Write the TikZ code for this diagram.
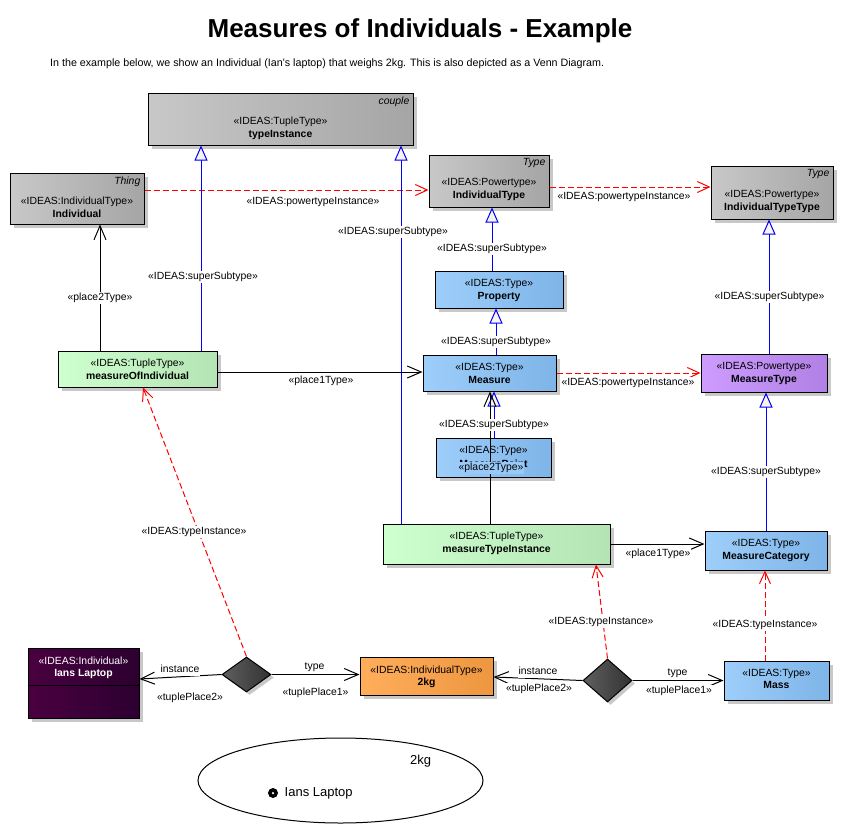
\documentclass[tikz,border=0pt]{standalone}
\usepackage{fontspec}
\setmainfont{Liberation Sans}
\usetikzlibrary{arrows.meta,shapes.geometric,shadows}
\definecolor{gL}{RGB}{200,200,200}
\definecolor{gR}{RGB}{165,165,165}
\definecolor{bL}{RGB}{158,206,250}
\definecolor{bR}{RGB}{126,180,232}
\definecolor{grL}{RGB}{206,255,206}
\definecolor{grR}{RGB}{180,228,180}
\definecolor{pL}{RGB}{206,156,255}
\definecolor{pR}{RGB}{176,128,228}
\definecolor{oL}{RGB}{255,174,92}
\definecolor{oR}{RGB}{238,150,64}
\definecolor{dL}{RGB}{74,0,64}
\definecolor{dR}{RGB}{44,0,48}
\definecolor{dmL}{RGB}{95,95,95}
\definecolor{dmR}{RGB}{50,50,50}
\definecolor{triF}{RGB}{248,244,236}
\definecolor{shad}{RGB}{200,200,200}
\tikzset{
 box/.style={draw=black, line width=1pt, rectangle, inner sep=0pt,
   drop shadow={shadow xshift=3.5pt, shadow yshift=-3.5pt, fill=shad, opacity=1}},
 graybox/.style={box, left color=gL, right color=gR},
 bluebox/.style={box, left color=bL, right color=bR},
 greenbox/.style={box, left color=grL, right color=grR},
 purplebox/.style={box, left color=pL, right color=pR},
 orangebox/.style={box, left color=oL, right color=oR},
 darkbox/.style={box, left color=dL, right color=dR},
 dia/.style={diamond, draw=black, line width=1pt, inner sep=0pt, left color=dmL, right color=dmR,
   drop shadow={shadow xshift=3pt, shadow yshift=-3pt, fill=shad, opacity=1}},
 st/.style={font=\fontsize{10.4}{12}\selectfont, inner sep=0pt, text height=7.5pt, text depth=2pt},
 nm/.style={font=\fontsize{10.4}{12}\selectfont\bfseries, inner sep=0pt, text height=7.5pt, text depth=2pt},
 tag/.style={font=\fontsize{10.4}{12}\selectfont\itshape, inner sep=0pt, anchor=north east},
 lbl/.style={font=\fontsize{10.4}{12}\selectfont, fill=white, inner sep=1pt, text height=7.5pt, text depth=2pt},
 gen/.style={draw=blue, line width=1pt, -{Triangle[open, length=15pt, width=13pt, fill=triF]}},
 dep/.style={draw=red, line width=1pt, dash pattern=on 6pt off 3pt, -{Straight Barb[length=12pt, width=11pt]}},
 asc/.style={draw=black, line width=1pt, -{Straight Barb[length=14pt, width=12pt]}},
}
\begin{document}
\begin{tikzpicture}[x=1pt,y=-1pt]
\useasboundingbox (0,0) rectangle (844,833);
% title
\node[font=\fontsize{26}{30}\selectfont\bfseries, inner sep=0pt] (title) at (420,31) {Measures of Individuals - Example};
\node[font=\fontsize{10.7}{12}\selectfont, inner sep=0pt, anchor=west] (subt) at (50,64) {In the example below, we show an Individual (Ian's laptop) that weighs 2kg. This is also depicted as a Venn Diagram.};

% boxes
\node[graybox, minimum width=265pt, minimum height=52pt] (ti) at (280.5,119) {};
\node[st] (ti-s) at (280.5,121.5) {«IDEAS:TupleType»};
\node[nm] (ti-n) at (280.5,134.5) {typeInstance};
\node[tag] (ti-t) at ([xshift=-4pt,yshift=-4pt]ti.north east) {couple};

\node[graybox, minimum width=134pt, minimum height=51pt] (ind) at (77,198.5) {};
\node[st] (ind-s) at (77,201.5) {«IDEAS:IndividualType»};
\node[nm] (ind-n) at (77,214.5) {Individual};
\node[tag] (ind-t) at ([xshift=-4pt,yshift=-4pt]ind.north east) {Thing};

\node[graybox, minimum width=120pt, minimum height=52pt] (it) at (489,181) {};
\node[st] (it-s) at (489,183) {«IDEAS:Powertype»};
\node[nm] (it-n) at (489,196) {IndividualType};
\node[tag] (it-t) at ([xshift=-4pt,yshift=-4pt]it.north east) {Type};

\node[graybox, minimum width=122pt, minimum height=53pt] (itt) at (772,192.5) {};
\node[st] (itt-s) at (772,194.5) {«IDEAS:Powertype»};
\node[nm] (itt-n) at (772,207.5) {IndividualTypeType};
\node[tag] (itt-t) at ([xshift=-4pt,yshift=-4pt]itt.north east) {Type};

\node[bluebox, minimum width=128pt, minimum height=37pt] (prop) at (499,289.5) {};
\node[st] (prop-s) at (499,284) {«IDEAS:Type»};
\node[nm] (prop-n) at (499,297) {Property};

\node[greenbox, minimum width=159pt, minimum height=36pt] (moi) at (137.5,369) {};
\node[st] (moi-s) at (137.5,364) {«IDEAS:TupleType»};
\node[nm] (moi-n) at (137.5,377) {measureOfIndividual};

\node[bluebox, minimum width=133pt, minimum height=36pt] (meas) at (489.5,373) {};
\node[st] (meas-s) at (489.5,368) {«IDEAS:Type»};
\node[nm] (meas-n) at (489.5,381) {Measure};

\node[purplebox, minimum width=126pt, minimum height=38pt] (mt) at (764,373) {};
\node[st] (mt-s) at (764,367) {«IDEAS:Powertype»};
\node[nm] (mt-n) at (764,380) {MeasureType};

\node[bluebox, minimum width=115pt, minimum height=39pt] (mp) at (493.5,457.5) {};
\node[st] (mp-s) at (493.5,451) {«IDEAS:Type»};
\node[nm] (mp-n) at (493.5,465) {MeasurePoint};

\node[greenbox, minimum width=227pt, minimum height=40pt] (mti) at (496.5,544) {};
\node[st] (mti-s) at (496.5,537) {«IDEAS:TupleType»};
\node[nm] (mti-n) at (496.5,550) {measureTypeInstance};

\node[bluebox, minimum width=122pt, minimum height=39pt] (mc) at (766,550.5) {};
\node[st] (mc-s) at (766,544) {«IDEAS:Type»};
\node[nm] (mc-n) at (766,557) {MeasureCategory};

\node[darkbox, minimum width=111pt, minimum height=70pt] (il) at (83.5,683) {};
\draw[line width=1pt] ([yshift=-2pt]il.west) -- ([yshift=-2pt]il.east);
\node[st, text=white] (il-s) at (83.5,662) {«IDEAS:Individual»};
\node[nm, text=white] (il-n) at (83.5,674) {Ians Laptop};

\node[orangebox, minimum width=133pt, minimum height=38pt] (kg) at (426.5,676) {};
\node[st] (kg-s) at (426.5,670.5) {«IDEAS:IndividualType»};
\node[nm] (kg-n) at (426.5,683) {2kg};

\node[bluebox, minimum width=105pt, minimum height=39pt] (mass) at (776.5,680.5) {};
\node[st] (mass-s) at (776.5,673.5) {«IDEAS:Type»};
\node[nm] (mass-n) at (776.5,686) {Mass};

\node[dia, minimum width=49pt, minimum height=35pt] (d1) at (246.5,674.5) {};
\node[dia, minimum width=49pt, minimum height=43pt] (d2) at (607.5,680.5) {};

% powertypeInstance
\coordinate (c1) at ([yshift=8.5pt]ind.east);
\draw[dep] (c1) -- (c1 -| it.west);
\coordinate (c2) at ([yshift=-6pt]it.east);
\draw[dep] (c2) -- (c2 -| itt.west);
\draw[dep] (meas.east) -- (mt.west);

% superSubtype
\coordinate (c3) at ([xshift=63.5pt]moi.north);
\draw[gen] (c3) -- (c3 |- ti.south);
\coordinate (c4) at ([xshift=-95.5pt]mti.north);
\draw[gen] (c4) -- (c4 |- ti.south);
\coordinate (c5) at ([xshift=-7pt]prop.north);
\draw[gen] (c5) -- (c5 |- it.south);
\coordinate (c6) at ([xshift=6.5pt]meas.north);
\draw[gen] (c6) -- (c6 |- prop.south);
\coordinate (c7) at ([xshift=0.5pt]mp.north);
\draw[gen] (c7) -- (c7 |- meas.south);
\coordinate (c8) at ([xshift=5pt]mt.north);
\draw[gen] (c8) -- (c8 |- itt.south);
\coordinate (c9) at (mc.north);
\draw[gen] (c9) -- (c9 |- mt.south);

% places
\coordinate (c10) at ([xshift=-37.5pt]moi.north);
\draw[asc] (c10) -- (c10 |- ind.south);
\coordinate (c11) at ([yshift=-3pt]moi.east);
\draw[asc] (c11) -- (c11 -| meas.west);
\coordinate (c12) at ([xshift=-6.5pt]mti.north);
\draw[asc] (c12) -- (c12 |- meas.south);
\draw[asc] (mti.east) -- (mti.east -| mc.west);

% typeInstance
\draw[dep] (d1.north) -- ([xshift=5.5pt]moi.south);
\draw[dep] (d2.north) -- ([xshift=99.5pt]mti.south);
\coordinate (c13) at ([xshift=-11.5pt]mass.north);
\draw[dep] (c13) -- (c13 |- mc.south);

% tuples
\draw[asc] (d1.west) -- ([yshift=4pt]il.east);
\draw[asc] (d1.east) -- (d1.east -| kg.west);
\draw[asc] (d2.west) -- ([yshift=-1pt]kg.east);
\draw[asc] (d2.east) -- (d2.east -| mass.west);

% labels
\node[lbl] (l1) at (313,202) {«IDEAS:powertypeInstance»};
\node[lbl] (l2) at (624,197) {«IDEAS:powertypeInstance»};
\node[lbl] (l3) at (628,383) {«IDEAS:powertypeInstance»};
\node[lbl] (l4) at (203,277) {«IDEAS:superSubtype»};
\node[lbl] (l5) at (393,232) {«IDEAS:superSubtype»};
\node[lbl] (l6) at (492,249) {«IDEAS:superSubtype»};
\node[lbl] (l7) at (496,342) {«IDEAS:superSubtype»};
\node[lbl] (l8) at (494,425) {«IDEAS:superSubtype»};
\node[lbl] (l9) at (769.5,297) {«IDEAS:superSubtype»};
\node[lbl] (l10) at (766,472) {«IDEAS:superSubtype»};
\node[lbl] (l11) at (100,298) {«place2Type»};
\node[lbl] (l12) at (321,381) {«place1Type»};
\node[lbl, fill=bL!85!bR] (l13) at (491,468) {«place2Type»};
\node[lbl] (l14) at (658,554) {«place1Type»};
\node[lbl] (l15) at (194,532) {«IDEAS:typeInstance»};
\node[lbl] (l16) at (601,622) {«IDEAS:typeInstance»};
\node[lbl] (l17) at (765,625) {«IDEAS:typeInstance»};
\node[lbl] (l18) at (180,670) {instance};
\node[lbl] (l19) at (190,698) {«tuplePlace2»};
\node[lbl] (l20) at (314.5,667) {type};
\node[lbl] (l21) at (315.5,693) {«tuplePlace1»};
\node[lbl] (l22) at (538,672) {instance};
\node[lbl] (l23) at (539,689) {«tuplePlace2»};
\node[lbl] (l24) at (677.5,673) {type};
\node[lbl] (l25) at (679,691) {«tuplePlace1»};

% Venn
\node[draw, ellipse, line width=1pt, minimum width=285pt, minimum height=85pt, inner sep=0pt] (venn) at (340.5,780.5) {};
\node[font=\fontsize{13}{15}\selectfont, inner sep=0pt] (v2kg) at (420.5,761) {2kg};
\node[font=\fontsize{13}{15}\selectfont, inner sep=0pt, anchor=west] (vil) at (284.5,793) {Ians Laptop};
\node[circle, fill=black, minimum size=10pt, inner sep=0pt] (dot) at (273,793) {};
\node[circle, fill=white, minimum size=2.5pt, inner sep=0pt] (dotc) at (dot) {};
\end{tikzpicture}
\end{document}
